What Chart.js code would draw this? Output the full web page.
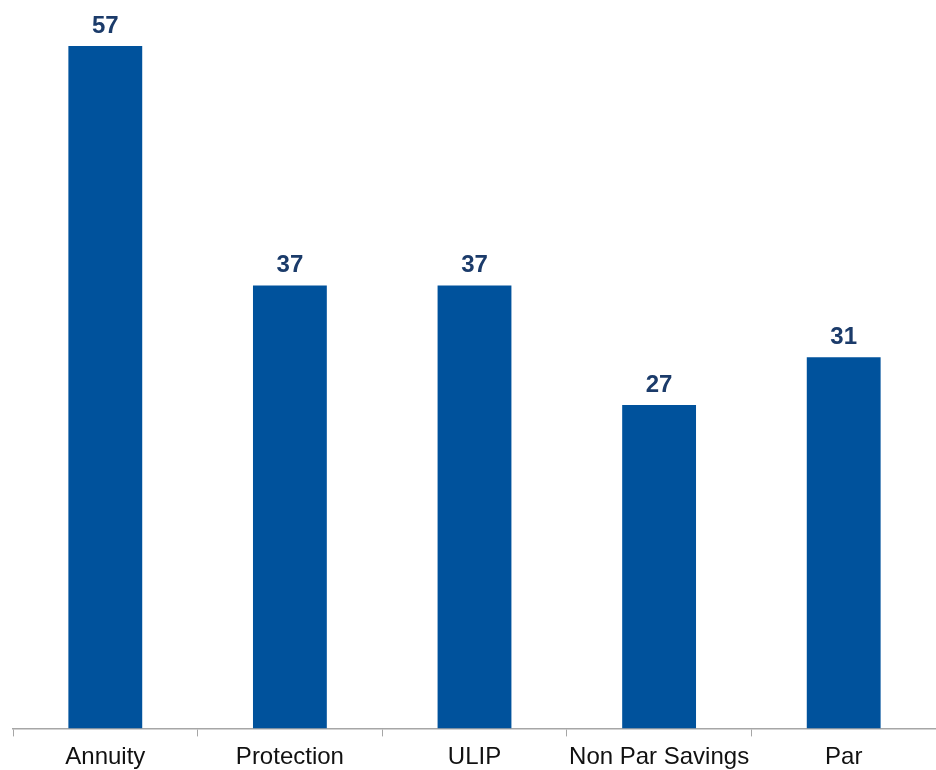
<!DOCTYPE html>
<html>
<head>
<meta charset="utf-8">
<style>
  html, body { margin: 0; padding: 0; background: #fff; }
  #wrap { width: 936px; height: 770px; }
</style>
<script src="https://cdn.jsdelivr.net/npm/chart.js@4/dist/chart.umd.min.js"></script>
</head>
<body>
<div id="wrap"><canvas id="mix"></canvas></div>
<script>
const categories = ['Annuity', 'Protection', 'ULIP', 'Non Par Savings', 'Par'];
const shares = [57, 37, 37, 27, 31];

// value above each bar
const barLabels = {
    id: 'barLabels',
    afterDatasetsDraw(chart) {
        const ctx = chart.ctx;
        const meta = chart.getDatasetMeta(0);
        ctx.save();
        ctx.font = 'bold 24px "Liberation Sans", Arial, sans-serif';
        ctx.fillStyle = '#1B3B6A';
        ctx.textAlign = 'center';
        ctx.textBaseline = 'alphabetic';
        meta.data.forEach((bar, i) => {
            ctx.fillText(shares[i], bar.x, bar.y - 13);
        });
        ctx.restore();
    }
};

new Chart(document.getElementById('mix').getContext('2d'), {
    type: 'bar',
    data: {
        labels: categories,
        datasets: [{
            data: shares,
            backgroundColor: '#00529C',
            borderWidth: 0,
            barPercentage: 0.8,
            categoryPercentage: 0.5
        }]
    },
    options: {
        responsive: true,
        maintainAspectRatio: false,
        animation: false,
        layout: { padding: { left: 13, right: 0, top: 10, bottom: -8 } },
        plugins: {
            legend: { display: false },
            tooltip: { enabled: false }
        },
        scales: {
            x: {
                grid: {
                    drawOnChartArea: false,
                    color: '#A6A6A6',
                    tickLength: 8,
                    offset: true
                },
                border: { color: '#A6A6A6', width: 1.5 },
                ticks: {
                    color: '#111',
                    padding: 10,
                    maxRotation: 0,
                    minRotation: 0,
                    autoSkip: false,
                    font: { family: '"Liberation Sans", Arial, sans-serif', size: 24, lineHeight: 0.9 }
                }
            },
            y: {
                display: false,
                min: 0,
                max: 60
            }
        }
    },
    plugins: [barLabels]
});
</script>
</body>
</html>
